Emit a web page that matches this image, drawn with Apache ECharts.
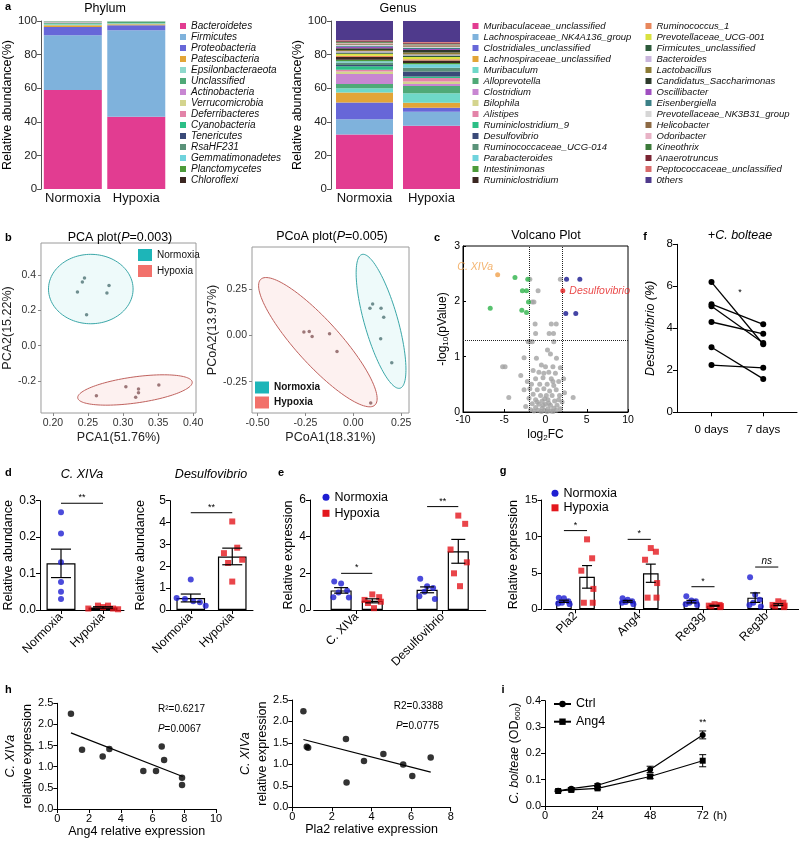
<!DOCTYPE html>
<html>
<head>
<meta charset="utf-8">
<script src="https://cdn.jsdelivr.net/npm/echarts@6/dist/echarts.min.js"></script>
<style>
  html, body { margin: 0; padding: 0; background: #fff; }
  #main { width: 800px; height: 841px; }
</style>
</head>
<body>
<div id="main"></div>
<script>
// ---------- data ----------
const groups = ['Normoxia', 'Hypoxia'];

// a: phylum (%)
const phylumNames = ['Bacteroidetes', 'Firmicutes', 'Proteobacteria', 'Patescibacteria', 'Epsilonbacteraeota',
  'Unclassified', 'Actinobacteria', 'Verrucomicrobia', 'Deferribacteres', 'Cyanobacteria', 'Tenericutes',
  'RsaHF231', 'Gemmatimonadetes', 'Planctomycetes', 'Chloroflexi'];
const phylumNormoxia = [59.0, 32.5, 5.0, 1.0, 0.8, 0.7, 0.3, 0.2, 0.2, 0.1, 0.1, 0.05, 0.02, 0.02, 0.01];
const phylumHypoxia = [43.0, 51.5, 3.0, 0.5, 0.6, 0.9, 0.2, 0.1, 0.1, 0.05, 0.02, 0.01, 0.01, 0.005, 0.005];

// a: genus (%)
const genusNames = ['Muribaculaceae_unclassified', 'Lachnospiraceae_NK4A136_group', 'Clostridiales_unclassified',
  'Lachnospiraceae_unclassified', 'Muribaculum', 'Alloprevotella', 'Clostridium', 'Bilophila', 'Alistipes',
  'Ruminiclostridium_9', 'Desulfovibrio', 'Ruminococcaceae_UCG-014', 'Parabacteroides', 'Intestinimonas',
  'Ruminiclostridium', 'Ruminococcus_1', 'Prevotellaceae_UCG-001', 'Firmicutes_unclassified', 'Bacteroides',
  'Lactobacillus', 'Candidatus_Saccharimonas', 'Oscillibacter', 'Eisenbergiella', 'Prevotellaceae_NK3B31_group',
  'Helicobacter', 'Odoribacter', 'Kineothrix', 'Anaerotruncus', 'Peptococcaceae_unclassified', '0thers'];
const genusNormoxia = [32.5, 9, 10, 6, 2.5, 2.5, 6, 1.5, 1, 2, 0.8, 1.5, 0.7, 1, 1.5,
  0.8, 1.2, 0.8, 0.7, 0.8, 1, 0.8, 0.6, 0.6, 0.8, 0.5, 0.5, 0.5, 0.5, 11.4];
const genusHypoxia = [37.7, 8.3, 2.4, 3, 5.6, 4.3, 1.2, 1.5, 2, 1, 3, 2.2, 2, 0.8, 1.5,
  0.8, 1.3, 0.8, 0.7, 1.2, 1.5, 0.6, 0.7, 0.6, 0.8, 0.5, 0.5, 0.5, 0.5, 12.5];

// b: ordination scores
const pcaNormoxia = [[0.245, 0.383], [0.242, 0.36], [0.235, 0.304], [0.280, 0.34], [0.277, 0.297], [0.248, 0.175]];
const pcaHypoxia = [[0.262, -0.283], [0.304, -0.232], [0.322, -0.245], [0.322, -0.265], [0.318, -0.291], [0.351, -0.222]];
// ellipse: centre x, centre y, first semi-axis (x, y), second semi-axis (x, y)
const pcaEllipseNormoxia = [0.254, 0.32, 0.0603, 0, 0, 0.196];
const pcaEllipseHypoxia = [0.317, -0.25, 0.0816, 0.045, 0.0026, -0.073];
const pcaXTicks = [0.2, 0.25, 0.3, 0.35, 0.4];
const pcaYTicks = [-0.2, 0, 0.2, 0.4];

const pcoaNormoxia = [[0.087, 0.148], [0.101, 0.171], [0.145, 0.148], [0.159, 0.099], [0.143, -0.018], [0.201, -0.148]];
const pcoaHypoxia = [[-0.258, 0.019], [-0.230, 0.022], [-0.215, -0.005], [-0.124, 0.009], [-0.085, -0.087], [0.091, -0.366]];
const pcoaEllipseNormoxia = [0.145, 0.077, 0.0995, -0.3626, 0.0838, 0.0249];
const pcoaEllipseHypoxia = [-0.185, -0.036, 0.298, -0.341, 0.084, 0.081];
const pcoaXTicks = [-0.5, -0.25, 0, 0.25];
const pcoaYTicks = [-0.25, 0, 0.25];

// c: volcano (log2FC, -log10 p)
const volcanoOther = [[-1.9, 2.40], [1.8, 2.40], [-0.9, 2.19], [-1.6, 1.99], [-1.4, 1.99], [-1.26, 1.59], [0.7, 1.59],
  [1.3, 1.59], [-1.2, 1.42], [0.44, 1.42], [0.97, 1.42], [-2.1, 1.27], [-1.6, 1.27], [-1.9, 1.27], [1.0, 1.27],
  [0.24, 1.12], [-2.6, 0.98], [-1.1, 0.97], [1.33, 0.97], [0.6, 1.05], [-5.2, 0.82], [-4.9, 0.82], [-3.0, 0.66],
  [-0.5, 0.85], [0.0, 0.82], [0.9, 0.82], [1.8, 0.8], [-1.5, 0.75], [-0.8, 0.72], [0.4, 0.72], [1.2, 0.7],
  [2.2, 0.6], [-2.2, 0.55], [-1.2, 0.6], [-0.3, 0.62], [0.7, 0.6], [1.6, 0.55], [-1.7, 0.5], [-0.7, 0.5],
  [0.2, 0.5], [1.0, 0.48], [-4.45, 0.26], [3.35, 0.26], [-2.6, 0.4], [-1.9, 0.42], [-1.0, 0.4], [-0.2, 0.42],
  [0.5, 0.38], [1.3, 0.4], [2.3, 0.35], [-1.5, 0.32], [-0.6, 0.3], [0.1, 0.3], [0.8, 0.3], [1.7, 0.3],
  [-2.0, 0.25], [-1.2, 0.22], [-0.4, 0.2], [0.3, 0.22], [1.1, 0.2], [2.0, 0.18], [-1.6, 0.15], [-0.8, 0.14],
  [0.0, 0.14], [0.6, 0.12], [1.4, 0.12], [-2.4, 0.1], [-1.2, 0.08], [-0.4, 0.07], [0.3, 0.06], [1.0, 0.07],
  [1.8, 0.06], [-1.8, 0.04], [-0.9, 0.03], [-0.1, 0.03], [0.6, 0.02], [1.3, 0.03], [-0.5, 0.01], [0.2, 0.01],
  [-1.4, 0.02], [0.9, 0.01], [-0.3, 0.12], [0.4, 0.16], [-1.0, 0.18], [1.6, 0.22], [-0.1, 0.24], [0.9, 0.55],
  [-0.2, 0.7]];
const volcanoDown = [[-3.7, 2.43], [-6.7, 1.875], [-2.8, 2.19], [-2.3, 2.19], [-2.15, 2.40], [-2.06, 1.99], [-2.87, 1.84], [-2.3, 1.80]];
const volcanoUp = [[2.55, 2.40], [4.16, 2.40], [2.46, 1.78], [3.67, 1.78]];
const volcanoXIVa = [[-5.8, 2.48]];
const volcanoDesulfo = [[2.1, 2.19]];
const volcanoCutoffs = {fc: [-2, 2], p: 1.301};

// f: Desulfovibrio (%) at 0 and 7 days, one pair per animal
const fDays = ['0 days', '7 days'];
const fPairs = [[6.2, 3.24], [5.15, 4.19], [5.05, 3.3], [4.3, 3.74], [3.1, 1.59], [2.25, 2.12]];

// d: relative abundance
const dXIVaNormoxia = [0.268, 0.21, 0.131, 0.077, 0.05, 0.03];
const dXIVaHypoxia = [0.004, 0.012, 0.008, 0.012, 0.004, 0.002];
const dXIVaMean = [0.128, 0.007];
const dXIVaSem = [0.039, 0.002];
const dDesulfoNormoxia = [1.4, 0.55, 0.5, 0.4, 0.35, 0.2];
const dDesulfoHypoxia = [4.05, 2.85, 2.6, 2.3, 2.15, 1.3];
const dDesulfoMean = [0.55, 2.45];
const dDesulfoSem = [0.18, 0.38];

// e: relative expression
const eCats = ['C. XIVa', 'Desulfovibrio'];
const eNormoxia = [[1.55, 1.45, 1.05, 0.95, 0.7, 0.68], [1.7, 1.3, 1.2, 1.0, 0.75, 0.6]];
const eHypoxia = [[0.85, 0.7, 0.55, 0.45, 0.38, 0.1], [5.15, 4.7, 3.3, 2.6, 2.0, 1.3]];
const eNormoxiaMean = [1.07, 1.1];
const eNormoxiaSem = [0.15, 0.16];
const eHypoxiaMean = [0.5, 3.2];
const eHypoxiaSem = [0.11, 0.65];
const eSigLevels = [2.0, 5.64];
const eSigMarks = ['*', '**'];

// g: relative expression
const gCats = ['Pla2', 'Ang4', 'Reg3g', 'Reg3b'];
const gNormoxia = [[1.6, 1.5, 1.1, 0.9, 0.8, 0.7], [1.5, 1.3, 1.1, 1.0, 0.9, 0.7],
  [1.8, 1.2, 1.1, 0.9, 0.7, 0.6], [4.4, 2.0, 1.3, 0.9, 0.6, 0.4]];
const gHypoxia = [[9.6, 7.0, 5.3, 2.8, 0.9, 0.9], [8.4, 7.9, 6.8, 3.6, 1.6, 1.6],
  [0.7, 0.6, 0.5, 0.45, 0.4, 0.3], [1.1, 0.9, 0.6, 0.5, 0.4, 0.3]];
const gNormoxiaMean = [1.1, 1.1, 1.05, 1.6];
const gNormoxiaSem = [0.15, 0.12, 0.18, 0.65];
const gHypoxiaMean = [4.45, 4.95, 0.49, 0.63];
const gHypoxiaSem = [1.55, 1.25, 0.06, 0.13];
const gSigLevels = [10.8, 9.6, 3.1, 5.8];
const gSigMarks = ['*', '*', '*', 'ns'];

// h: correlations
const hAng4 = [[0.86, 2.25], [1.56, 1.40], [2.86, 1.24], [3.28, 1.42], [5.42, 0.90], [6.22, 0.90],
  [6.58, 1.48], [6.73, 1.16], [7.86, 0.74], [7.86, 0.57]];
const hAng4Fit = [[0.86, 1.80], [7.9, 0.77]];
const hPla2 = [[0.56, 2.24], [0.73, 1.41], [0.8, 1.39], [2.71, 1.59], [2.74, 0.58], [3.62, 1.08],
  [4.6, 1.24], [5.6, 1.0], [6.06, 0.73], [6.99, 1.16]];
const hPla2Fit = [[0.56, 1.58], [6.99, 0.82]];

// i: growth curve
const iHours = [6, 12, 24, 48, 72];
const iCtrl = [0.058, 0.066, 0.079, 0.139, 0.27];
const iCtrlErr = [0.003, 0.004, 0.005, 0.012, 0.015];
const iAng4 = [0.057, 0.061, 0.067, 0.112, 0.172];
const iAng4Err = [0.003, 0.004, 0.005, 0.008, 0.023];

// ---------- styling ----------
const FONT = "'Liberation Sans', Arial, sans-serif";
const BLUE = '#1e1ed2', RED = '#e3171d', TEAL = '#1db5b8', SALMON = '#f2716b';
const phylumColors = ['#e23c91', '#7fb2dc', '#6767d8', '#e3a537', '#8fd9cc', '#4fa977', '#c886d2', '#d4d48e',
  '#e383a8', '#2cbf86', '#3a4a78', '#5a9279', '#6fd3dd', '#4d9b3a', '#3b2621'];
const genusColors = ['#e23c91', '#7fb2dc', '#6767d8', '#e3a537', '#6fd8c8', '#4fa977', '#c886d2', '#d4d48e',
  '#e383a8', '#2cbf86', '#3a4a78', '#5a9279', '#6fd3dd', '#4d9b3a', '#3b2621', '#e8875c', '#d9e13f', '#2c5a3a',
  '#c9b5dc', '#8c7b36', '#2d3a2b', '#a04fc0', '#3b8087', '#d6d6d6', '#8d6a45', '#e8b3c6', '#3c7a3a', '#7a2433',
  '#d86b6b', '#4f3a8c'];

const option = {animation: false, backgroundColor: '#fff', textStyle: {fontFamily: FONT},
  grid: [], xAxis: [], yAxis: [], series: [], legend: [], graphic: []};

function merge(a, b) {
  const out = Object.assign({}, a);
  for (const k in b) {
    const v = b[k];
    if (v && typeof v === 'object' && !Array.isArray(v) && a[k] && typeof a[k] === 'object' && !Array.isArray(a[k])) {
      out[k] = merge(a[k], v);
    } else {
      out[k] = v;
    }
  }
  return out;
}
const AX = {
  axisLine: {show: true, onZero: false, lineStyle: {color: '#000', width: 1}},
  axisTick: {show: true, inside: false, length: 4, lineStyle: {color: '#000', width: 1}},
  axisLabel: {show: true, color: '#000', fontSize: 11, fontFamily: FONT, margin: 4},
  splitLine: {show: false},
  splitArea: {show: false},
  nameLocation: 'middle',
  nameTextStyle: {color: '#000', fontSize: 12.5, fontFamily: FONT}
};
function addGrid(left, top, width, height, extra) {
  option.grid.push(Object.assign({left, top, width, height, containLabel: false}, extra || {}));
  return option.grid.length - 1;
}
function addX(g, o) { option.xAxis.push(merge(AX, Object.assign({gridIndex: g}, o))); return option.xAxis.length - 1; }
function addY(g, o) { option.yAxis.push(merge(AX, Object.assign({gridIndex: g}, o))); return option.yAxis.length - 1; }
function text(x, y, str, style) {
  option.graphic.push({type: 'text', x, y, silent: true, z: 100,
    style: Object.assign({text: str, fontSize: 12.5, fontFamily: FONT, fill: '#000', align: 'center', verticalAlign: 'middle'}, style || {})});
}
function richFont(size, extra) { return Object.assign({fontSize: size, fontFamily: FONT, color: '#000'}, extra || {}); }

function ellipse(name, xi, yi, params, stroke, fill) {
  option.series.push({type: 'custom', name, xAxisIndex: xi, yAxisIndex: yi, silent: true, z: 1, data: [params],
    renderItem(p, api) {
      const v = [0, 1, 2, 3, 4, 5].map(i => api.value(i));
      const pts = [];
      for (let k = 0; k < 120; k++) {
        const t = k / 120 * Math.PI * 2;
        pts.push(api.coord([v[0] + v[2] * Math.cos(t) + v[4] * Math.sin(t), v[1] + v[3] * Math.cos(t) + v[5] * Math.sin(t)]));
      }
      return {type: 'polygon', shape: {points: pts}, style: {fill, stroke, lineWidth: 1}};
    }});
}
function errBars(xi, yi, items, cap, width) {
  option.series.push({type: 'custom', xAxisIndex: xi, yAxisIndex: yi, silent: true, z: 6, data: items,
    renderItem(p, api) {
      const x = api.value(0), m = api.value(1), e = api.value(2);
      const hi = api.coord([x, m + e]), lo = api.coord([x, m - e]);
      const st = {stroke: '#000', lineWidth: width || 1.2};
      return {type: 'group', children: [
        {type: 'line', shape: {x1: hi[0], y1: hi[1], x2: lo[0], y2: lo[1]}, style: st},
        {type: 'line', shape: {x1: hi[0] - cap, y1: hi[1], x2: hi[0] + cap, y2: hi[1]}, style: st},
        {type: 'line', shape: {x1: lo[0] - cap, y1: lo[1], x2: lo[0] + cap, y2: lo[1]}, style: st}]};
    }});
}
function sigMarks(xi, yi, items, marks, size, italic) {
  option.series.push({type: 'custom', xAxisIndex: xi, yAxisIndex: yi, silent: true, z: 7, data: items,
    renderItem(p, api) {
      const a = api.coord([api.value(0), api.value(2)]), b = api.coord([api.value(1), api.value(2)]);
      const kids = [];
      if (api.value(1) !== api.value(0)) {
        kids.push({type: 'line', shape: {x1: a[0], y1: a[1], x2: b[0], y2: b[1]}, style: {stroke: '#000', lineWidth: 1}});
      }
      const m = marks[p.dataIndex];
      kids.push({type: 'text', x: (a[0] + b[0]) / 2, y: a[1] - 1,
        style: {text: m, fontSize: m === 'ns' ? 10 : size, fontFamily: FONT, fontStyle: italic || m === 'ns' ? 'italic' : 'normal',
          fill: '#000', align: 'center', verticalAlign: 'bottom'}});
      return {type: 'group', children: kids};
    }});
}
function points(name, xi, yi, data, color, symbol, size) {
  option.series.push({type: 'scatter', name, xAxisIndex: xi, yAxisIndex: yi, symbol: symbol || 'circle',
    symbolSize: size || 6, itemStyle: {color}, data, z: 5, silent: true});
}
function placed(values, centre, jitter) { return values.map((v, j) => [centre + jitter[j], v]); }

// ---------- a: Phylum ----------
function stackPanel(left, width, barW, names, colors, normoxia, hypoxia, stack) {
  const g = addGrid(left, 21, width, 168);
  const xi = addX(g, {type: 'category', data: groups, axisLine: {show: false}, axisTick: {show: false},
    axisLabel: {fontSize: 13, margin: 3, color: '#111', interval: 0, hideOverlap: false}});
  const yi = addY(g, {type: 'value', min: 0, max: 100, interval: 20, name: 'Relative abundance(%)', nameGap: 25,
    axisLine: {lineStyle: {color: '#555'}}, axisTick: {lineStyle: {color: '#555'}}, axisLabel: {fontSize: 11.5, color: '#222'}});
  names.forEach((n, i) => option.series.push({type: 'bar', name: n, stack, xAxisIndex: xi, yAxisIndex: yi,
    barWidth: barW, itemStyle: {color: colors[i]}, data: [normoxia[i], hypoxia[i]]}));
}
function sideLegend(left, names, size) {
  option.legend.push({orient: 'vertical', left, top: 20.5, padding: 0, itemWidth: 6, itemHeight: 6, itemGap: 0,
    icon: 'rect', selectedMode: false, data: names,
    textStyle: {fontSize: size, fontStyle: 'italic', fontFamily: FONT, color: '#111', lineHeight: 11}});
}
stackPanel(40, 128, 58, phylumNames, phylumColors, phylumNormoxia, phylumHypoxia, 'phylum');
sideLegend(180, phylumNames, 10);
text(105, 9, 'Phylum', {fontSize: 12.5});

stackPanel(331, 134, 57, genusNames, genusColors, genusNormoxia, genusHypoxia, 'genus');
sideLegend(472.5, genusNames.slice(0, 15), 9.5);
sideLegend(645.5, genusNames.slice(15), 9.5);
text(398, 9, 'Genus', {fontSize: 12.5});

// ---------- b: PCA / PCoA ----------
function ordination(cfg) {
  const g = addGrid(cfg.left, cfg.top, cfg.width, cfg.height, {show: true, borderColor: '#9a9a9a', borderWidth: 1, backgroundColor: 'transparent'});
  const xi = addX(g, {type: 'value', min: cfg.xr[0], max: cfg.xr[1], axisLine: {show: false},
    axisTick: {customValues: cfg.xt, length: 3, lineStyle: {color: '#888'}},
    axisLabel: {customValues: cfg.xt, formatter: v => v.toFixed(2), fontSize: 10.5, color: '#333', margin: 5},
    name: cfg.xName, nameGap: 18, nameTextStyle: {color: '#222'}});
  const yi = addY(g, {type: 'value', min: cfg.yr[0], max: cfg.yr[1], axisLine: {show: false},
    axisTick: {customValues: cfg.yt, length: 3, lineStyle: {color: '#888'}},
    axisLabel: {customValues: cfg.yt, formatter: v => v.toFixed(cfg.yDigits), fontSize: 10.5, color: '#333', margin: 5},
    name: cfg.yName, nameGap: cfg.yNameGap, nameTextStyle: {color: '#222'}});
  ellipse('Normoxia', xi, yi, cfg.eN, '#3aa7a8', 'rgba(120,215,215,0.13)');
  ellipse('Hypoxia', xi, yi, cfg.eH, '#c0625e', 'rgba(240,150,140,0.13)');
  points('Normoxia', xi, yi, cfg.pN, '#4f7374', 'circle', 3.5);
  points('Hypoxia', xi, yi, cfg.pH, '#84595a', 'circle', 3.5);
  option.legend.push({orient: 'vertical', left: cfg.legend[0], top: cfg.legend[1], padding: 0, itemWidth: 14, itemHeight: 12,
    itemGap: cfg.legend[2], selectedMode: false,
    data: [{name: 'Normoxia', icon: 'rect', itemStyle: {color: TEAL}}, {name: 'Hypoxia', icon: 'rect', itemStyle: {color: SALMON}}],
    textStyle: {fontSize: 10, fontFamily: FONT, color: '#111', fontWeight: cfg.legend[3], lineHeight: 12}});
}
ordination({left: 40, top: 243, width: 156, height: 170, xr: [0.183, 0.404], yr: [-0.38, 0.58], xt: pcaXTicks, yt: pcaYTicks,
  yDigits: 1, xName: 'PCA1(51.76%)', yName: 'PCA2(15.22%)', yNameGap: 24, eN: pcaEllipseNormoxia, eH: pcaEllipseHypoxia,
  pN: pcaNormoxia, pH: pcaHypoxia, legend: [138, 249, 4, 'normal']});
text(5, 238, 'b', {fontWeight: 'bold', fontSize: 11, align: 'left'});
text(120, 238, 'PCA plot({i|P}=0.003)', {rich: {i: richFont(12.5, {fontStyle: 'italic'})}});

ordination({left: 252, top: 247, width: 157, height: 166, xr: [-0.529, 0.291], yr: [-0.42, 0.48], xt: pcoaXTicks, yt: pcoaYTicks,
  yDigits: 2, xName: 'PCoA1(18.31%)', yName: 'PCoA2(13.97%)', yNameGap: 30, eN: pcoaEllipseNormoxia, eH: pcoaEllipseHypoxia,
  pN: pcoaNormoxia, pH: pcoaHypoxia, legend: [255, 381.5, 3, 'bold']});
text(332, 237, 'PCoA plot({i|P}=0.005)', {rich: {i: richFont(12.5, {fontStyle: 'italic'})}});

// ---------- c: Volcano ----------
(function () {
  const g = addGrid(463, 246, 165, 166, {show: true, borderColor: '#000', borderWidth: 1, backgroundColor: 'transparent'});
  const xi = addX(g, {type: 'value', min: -10, max: 10, interval: 5, axisTick: {inside: true, length: 3},
    axisLabel: {fontSize: 10.5, margin: 3}, name: '{n|log}{s|2}{n|FC}', nameGap: 16,
    nameTextStyle: {rich: {n: richFont(12, {lineHeight: 14}), s: richFont(8, {lineHeight: 9, verticalAlign: 'bottom'})}}});
  const yi = addY(g, {type: 'value', min: 0, max: 3, interval: 1, axisTick: {inside: true, length: 3},
    axisLabel: {fontSize: 10.5, margin: 3}, name: '{n|-log}{s|10}{n|(pValue)}', nameGap: 13,
    nameTextStyle: {rich: {n: richFont(12, {lineHeight: 14}), s: richFont(8, {lineHeight: 9, verticalAlign: 'bottom'})}}});
  option.series.push({type: 'scatter', xAxisIndex: xi, yAxisIndex: yi, symbolSize: 5, itemStyle: {color: '#a3a3a3'},
    data: volcanoOther, silent: true,
    markLine: {silent: true, symbol: ['none', 'none'], label: {show: false}, lineStyle: {type: 'dotted', color: '#222', width: 1},
      data: [{xAxis: volcanoCutoffs.fc[0]}, {xAxis: volcanoCutoffs.fc[1]}, {yAxis: volcanoCutoffs.p}]}});
  points('down', xi, yi, volcanoDown, '#2db34a', 'circle', 5);
  points('up', xi, yi, volcanoUp, '#16168f', 'circle', 5);
  option.series.push({type: 'scatter', xAxisIndex: xi, yAxisIndex: yi, symbolSize: 5, itemStyle: {color: '#f0a04b'},
    data: volcanoXIVa, silent: true, z: 6,
    label: {show: true, formatter: 'C. XIVa', position: 'left', distance: 2, offset: [0, -8], color: '#f0a04b',
      fontStyle: 'italic', fontSize: 10.5, fontFamily: FONT}});
  option.series.push({type: 'scatter', xAxisIndex: xi, yAxisIndex: yi, symbolSize: 5, itemStyle: {color: '#e51b1b'},
    data: volcanoDesulfo, silent: true, z: 6,
    label: {show: true, formatter: 'Desulfovibrio', position: 'right', distance: 4, color: '#e51b1b',
      fontStyle: 'italic', fontSize: 10.5, fontFamily: FONT}});
  text(437, 238, 'c', {fontWeight: 'bold', fontSize: 11});
  text(546, 236, 'Volcano Plot', {fontSize: 12.5});
})();

// ---------- f: paired lines ----------
(function () {
  const g = addGrid(677, 244.3, 120, 168);
  const xi = addX(g, {type: 'value', min: -0.667, max: 1.653, axisTick: {customValues: [0, 1]},
    axisLabel: {customValues: [0, 1], formatter: v => fDays[Math.round(v)], fontSize: 11.5, margin: 12}});
  const yi = addY(g, {type: 'value', min: 0, max: 8, interval: 2, axisLabel: {fontSize: 11.5},
    name: 'Desulfovibrio (%)', nameGap: 20, nameTextStyle: {fontStyle: 'italic'}});
  fPairs.forEach(p => option.series.push({type: 'line', xAxisIndex: xi, yAxisIndex: yi, symbol: 'circle', symbolSize: 6,
    itemStyle: {color: '#000'}, lineStyle: {color: '#000', width: 1.3}, data: [[0, p[0]], [1, p[1]]], silent: true}));
  sigMarks(xi, yi, [[0.55, 0.55, 5.45]], ['*'], 9);
  text(645, 237, 'f', {fontWeight: 'bold', fontSize: 11});
  text(740, 236, '+C. bolteae', {fontSize: 12.5, fontStyle: 'italic'});
})();

// ---------- bar + dot panels ----------
function barAxes(left, top, width, height, cats, yMax, yStep, yFmt, yName, yNameGap, yOffset, tickFont) {
  const g = addGrid(left, top, width, height);
  const xi = addX(g, {type: 'category', data: cats, boundaryGap: true, axisTick: {alignWithLabel: true, length: 4},
    axisLabel: {rotate: 45, fontSize: 12, margin: 5, interval: 0}});
  const yi = addY(g, {type: 'value', min: 0, max: yMax, interval: yStep, offset: yOffset || 0, name: yName, nameGap: yNameGap,
    axisLabel: {fontSize: tickFont || 12, formatter: yFmt}});
  const vx = addX(g, {type: 'value', min: -0.5, max: cats.length - 0.5, show: false});
  return {xi, yi, vx};
}
function bars(ax, means, frac, gap) {
  option.series.push({type: 'bar', xAxisIndex: ax.xi, yAxisIndex: ax.yi, barWidth: (frac * 100) + '%', barGap: (gap * 100) + '%',
    itemStyle: {color: '#fff', borderColor: '#000', borderWidth: 1.2}, data: means, silent: true, z: 2});
}

// d: C. XIVa
(function () {
  const ax = barAxes(40, 500.7, 84, 109.3, groups, 0.3, 0.1, v => v.toFixed(1), 'Relative abundance', 24);
  bars(ax, dXIVaMean, 0.69, 0);
  points('Normoxia', ax.vx, ax.yi, placed(dXIVaNormoxia, 0, [0, 0, 0, 0, 0, 0]), BLUE, 'circle', 6);
  points('Hypoxia', ax.vx, ax.yi, placed(dXIVaHypoxia, 1, [-0.35, -0.12, 0, 0.12, 0.24, 0.36]), RED, 'rect', 6);
  errBars(ax.vx, ax.yi, [[0, dXIVaMean[0], dXIVaSem[0]], [1, dXIVaMean[1], dXIVaSem[1]]], 10);
  sigMarks(ax.vx, ax.yi, [[0, 1, 0.293]], ['**'], 9);
  text(5, 473, 'd', {fontWeight: 'bold', fontSize: 11, align: 'left'});
  text(82, 475, 'C. XIVa', {fontStyle: 'italic'});
})();
// d: Desulfovibrio
(function () {
  const ax = barAxes(170, 500.7, 83, 109.3, groups, 5, 1, v => v, 'Relative abundance', 23);
  bars(ax, dDesulfoMean, 0.69, 0);
  points('Normoxia', ax.vx, ax.yi, placed(dDesulfoNormoxia, 0, [0, -0.34, -0.14, 0.06, 0.22, 0.36]), BLUE, 'circle', 6);
  points('Hypoxia', ax.vx, ax.yi, placed(dDesulfoHypoxia, 1, [0, 0.12, -0.2, 0.24, -0.1, 0]), RED, 'rect', 6);
  errBars(ax.vx, ax.yi, [[0, dDesulfoMean[0], dDesulfoSem[0]], [1, dDesulfoMean[1], dDesulfoSem[1]]], 10);
  sigMarks(ax.vx, ax.yi, [[0, 1, 4.45]], ['**'], 9);
  text(211, 475, 'Desulfovibrio', {fontStyle: 'italic'});
})();

function groupedPanel(ax, cats, nPts, hPts, nMean, nSem, hMean, hSem, levels, marks, frac, gap, cap, jitN, jitH) {
  const shift = frac * (1 + gap) / 2;
  bars(ax, nMean, frac, gap);
  bars(ax, hMean, frac, gap);
  const nData = [], hData = [], err = [], sig = [];
  cats.forEach((c, i) => {
    nData.push(...placed(nPts[i], i - shift, jitN));
    hData.push(...placed(hPts[i], i + shift, jitH));
    err.push([i - shift, nMean[i], nSem[i]], [i + shift, hMean[i], hSem[i]]);
    sig.push([i - shift, i + shift, levels[i]]);
  });
  points('Normoxia', ax.vx, ax.yi, nData, BLUE, 'circle', 6);
  points('Hypoxia', ax.vx, ax.yi, hData, RED, 'rect', 6);
  errBars(ax.vx, ax.yi, err, cap);
  sigMarks(ax.vx, ax.yi, sig, marks, 9);
}
function dotLegend(left, top, gap, size) {
  option.legend.push({orient: 'vertical', left, top, padding: 0, itemWidth: 7, itemHeight: 7, itemGap: gap, selectedMode: false,
    data: [{name: 'Normoxia', icon: 'circle', itemStyle: {color: BLUE}}, {name: 'Hypoxia', icon: 'rect', itemStyle: {color: RED}}],
    textStyle: {fontSize: size, fontFamily: FONT, color: '#000', lineHeight: 14}});
}

// e
(function () {
  const ax = barAxes(313.7, 500, 172, 110, eCats, 6, 2, v => v, 'Relative expression', 14, 3.7);
  groupedPanel(ax, eCats, eNormoxia, eHypoxia, eNormoxiaMean, eNormoxiaSem, eHypoxiaMean, eHypoxiaSem, eSigLevels, eSigMarks,
    0.245, 0.48, 7, [-0.08, 0.0, 0.07, -0.03, -0.09, 0.09], [0.0, 0.08, -0.09, 0.1, -0.05, 0.02]);
  dotLegend(322.5, 490.3, 2, 12.5);
  text(281, 473, 'e', {fontWeight: 'bold', fontSize: 11});
})();

// g
(function () {
  const ax = barAxes(543.6, 500, 255, 109.3, gCats, 15, 5, v => v, 'Relative expression', 22, 2, 11.5);
  groupedPanel(ax, gCats, gNormoxia, gHypoxia, gNormoxiaMean, gNormoxiaSem, gHypoxiaMean, gHypoxiaSem, gSigLevels, gSigMarks,
    0.245, 0.48, 5, [-0.08, 0.0, 0.07, -0.03, -0.09, 0.09], [0.0, 0.08, -0.09, 0.1, -0.05, 0.09]);
  dotLegend(551.5, 486.3, 0.5, 12.5);
  text(503, 471, 'g', {fontWeight: 'bold', fontSize: 11});
})();

// ---------- h: correlations ----------
function corrPanel(left, top, width, height, xMax, pts, fit, xName, r2, p, statX) {
  const g = addGrid(left, top, width, height);
  const xi = addX(g, {type: 'value', min: 0, max: xMax, interval: 2, axisLabel: {fontSize: 11}, name: xName, nameGap: 15});
  const yi = addY(g, {type: 'value', min: 0, max: 2.5, interval: 0.5, axisLabel: {fontSize: 11, formatter: v => v.toFixed(1)},
    name: '{i|C. XIVa}\n{n|relative expression}', nameGap: 21,
    nameTextStyle: {rich: {i: richFont(12.5, {fontStyle: 'italic', lineHeight: 17}), n: richFont(12.5, {lineHeight: 17})}}});
  option.series.push({type: 'line', xAxisIndex: xi, yAxisIndex: yi, data: fit, symbol: 'none', silent: true,
    lineStyle: {color: '#000', width: 1.2}});
  points('corr', xi, yi, pts, '#000', 'circle', 6.5);
  text(statX, top + 6, r2, {fontSize: 10, align: 'right'});
  text(statX - 4, top + 26, '{i|P}=' + p, {fontSize: 10, align: 'right', rich: {i: richFont(10, {fontStyle: 'italic'})}});
}
corrPanel(57.3, 703.3, 158.7, 105.7, 10, hAng4, hAng4Fit, 'Ang4 relative expression', 'R\u00b2=0.6217', '0.0067', 205);
corrPanel(292.3, 700, 158.4, 107.3, 8, hPla2, hPla2Fit, 'Pla2 relative expression', 'R2=0.3388', '0.0775', 443);
text(5, 690, 'h', {fontWeight: 'bold', fontSize: 11, align: 'left'});

// ---------- i: growth curve ----------
(function () {
  const g = addGrid(545, 700.7, 157.7, 105.3);
  const xi = addX(g, {type: 'value', min: 0, max: 72, interval: 24, axisLabel: {fontSize: 11}});
  const yi = addY(g, {type: 'value', min: 0, max: 0.4, interval: 0.1, axisLabel: {fontSize: 11, formatter: v => v.toFixed(1)},
    name: '{i|C. bolteae} {n|(OD}{s|600}{n|)}', nameGap: 23,
    nameTextStyle: {rich: {i: richFont(12.5, {fontStyle: 'italic', lineHeight: 15}), n: richFont(12.5, {lineHeight: 15}),
      s: richFont(8, {lineHeight: 9, verticalAlign: 'bottom'})}}});
  option.series.push({type: 'line', name: 'Ctrl', xAxisIndex: xi, yAxisIndex: yi, symbol: 'circle', symbolSize: 6,
    itemStyle: {color: '#000'}, lineStyle: {color: '#000', width: 1.2}, data: iHours.map((h, k) => [h, iCtrl[k]]), silent: true});
  option.series.push({type: 'line', name: 'Ang4', xAxisIndex: xi, yAxisIndex: yi, symbol: 'rect', symbolSize: 6,
    itemStyle: {color: '#000'}, lineStyle: {color: '#000', width: 1.2}, data: iHours.map((h, k) => [h, iAng4[k]]), silent: true});
  errBars(xi, yi, iHours.map((h, k) => [h, iCtrl[k], iCtrlErr[k]]).concat(iHours.map((h, k) => [h, iAng4[k], iAng4Err[k]])), 3.5, 1);
  sigMarks(xi, yi, [[72, 72, 0.297]], ['**'], 9);
  option.legend.push({orient: 'vertical', left: 553, top: 697, padding: 0, itemWidth: 17, itemHeight: 8, itemGap: 3.7,
    selectedMode: false, data: ['Ctrl', 'Ang4'], textStyle: {fontSize: 12.5, fontFamily: FONT, color: '#000', lineHeight: 14}});
  text(720, 816, '(h)', {fontSize: 11.5});
  text(503, 690, 'i', {fontWeight: 'bold', fontSize: 11});
})();

text(5, 7, 'a', {fontWeight: 'bold', fontSize: 11, align: 'left'});

const chart = echarts.init(document.getElementById('main'), null, {renderer: 'canvas'});
chart.setOption(option);
</script>
</body>
</html>
